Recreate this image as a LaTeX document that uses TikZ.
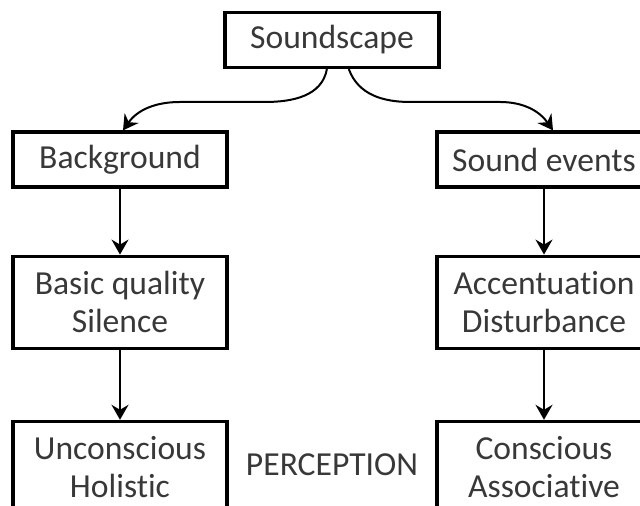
\documentclass[tikz,border=0pt]{standalone}
\usepackage{fontspec}
\setmainfont{Carlito}[Ligatures={NoCommon,NoRare}]
\usetikzlibrary{positioning,arrows.meta}

\begin{document}
\begin{tikzpicture}[
  x=0.5pt, y=0.5pt,
  font=\fontsize{16.8}{19}\selectfont,
  node distance=33pt,
  box/.style={draw, line width=1.6pt, align=center, inner sep=2pt, text=black!78, minimum width=107pt, minimum height=27.5pt},
  tallbox/.style={box, minimum height=46pt},
  arrow/.style={-{Stealth[length=7.5pt,width=8.5pt,inset=2.5pt]}, line width=1pt}
]
\clip (0,0) rectangle (640,506);

% Top node
\node[box] (scape) at (332,466) {Soundscape};

% Left column
\node[box] (bg) at (120,346.5) {Background};
\node[tallbox, below=of bg] (basic) {Basic quality\\Silence};
\node[tallbox, below=35pt of basic] (uncon) {Unconscious\\Holistic};

% Right column
\node[box] (events) at (544,346.5) {Sound events};
\node[tallbox, below=of events] (accent) {Accentuation\\Disturbance};
\node[tallbox, below=35pt of accent] (con) {Conscious\\Associative};

\node[text=black!78] (perc) at (332,41) {PERCEPTION};

% Split of the soundscape
\draw[arrow] (scape.260) to[out=-100,in=0] (265,404) -- (180,404) to[out=180,in=55] ([xshift=1.5pt]bg.north);
\draw[arrow] (scape.300) to[out=-70,in=180] (410,404) -- (500,404) to[out=0,in=125] ([xshift=4.5pt]events.north);

% Columns
\draw[arrow] (bg) -- (basic);
\draw[arrow] (basic) -- (uncon);
\draw[arrow] (events) -- (accent);
\draw[arrow] (accent) -- (con);

\end{tikzpicture}
\end{document}
